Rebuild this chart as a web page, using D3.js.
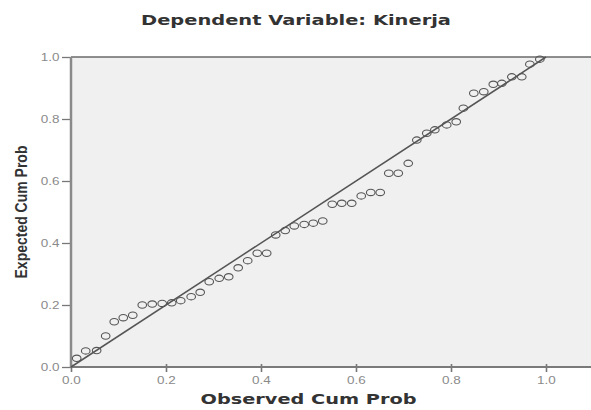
<!DOCTYPE html>
<html><head><meta charset="utf-8">
<script src="https://cdn.jsdelivr.net/npm/d3@7"></script>
<style>body{margin:0;background:#fff}svg{display:block}</style>
</head><body>
<script>
const titleText = "Dependent Variable: Kinerja";
const xLabel = "Observed Cum Prob";
const yLabel = "Expected Cum Prob";
const tickValues = [0.0, 0.2, 0.4, 0.6, 0.8, 1.0];
const observed = [0.012,0.031,0.054,0.073,0.091,0.110,0.130,0.150,0.171,0.192,0.212,0.231,0.253,0.272,0.291,0.312,0.332,
  0.352,0.372,0.392,0.412,0.431,0.451,0.470,0.491,0.510,0.530,0.550,0.570,0.591,0.611,0.631,0.651,0.669,
  0.689,0.710,0.728,0.749,0.766,0.791,0.811,0.826,0.848,0.869,0.889,0.907,0.928,0.949,0.966,0.987];
const expected = [0.028,0.052,0.053,0.100,0.146,0.159,0.167,0.200,0.203,0.205,0.207,0.214,0.227,0.241,0.275,0.286,0.291,
  0.320,0.343,0.367,0.367,0.426,0.440,0.455,0.460,0.464,0.471,0.525,0.528,0.528,0.552,0.563,0.563,0.625,
  0.625,0.657,0.732,0.754,0.765,0.781,0.791,0.835,0.883,0.888,0.912,0.915,0.936,0.936,0.977,0.993];

(function () {
const W = 591, H = 410;
const pLeft = 71, pTop = 57, pBottom = 367;
const x = d3.scaleLinear().domain([0, 1]).range([pLeft, pLeft + 475]);
const y = d3.scaleLinear().domain([0, 1]).range([pBottom, pTop]);

const svg = d3.select("body").append("svg").attr("width", W).attr("height", H);

svg.append("rect").attr("x", pLeft).attr("y", pTop).attr("width", W - pLeft).attr("height", pBottom - pTop).attr("fill", "#f0f0f0");
svg.append("line").attr("x1", pLeft).attr("x2", W).attr("y1", pTop).attr("y2", pTop).attr("stroke", "#6a6a6a").attr("stroke-width", 1.5);

const fmt = d3.format(".1f");
const xAxis = svg.append("g").attr("transform", `translate(0,${pBottom})`)
  .call(d3.axisBottom(x).tickValues(tickValues).tickFormat(fmt).tickSize(5).tickSizeOuter(0));
xAxis.select(".domain").remove();
xAxis.append("line").attr("x1", pLeft).attr("x2", W).attr("stroke", "#7a7a7a").attr("stroke-width", 2);
xAxis.selectAll(".tick line").attr("stroke", "#777").attr("stroke-width", 1.6).attr("y1", -3);
xAxis.selectAll(".tick text").attr("fill", "#8a8a8a").attr("font-size", 10)
  .attr("font-family", "Liberation Sans, Arial, sans-serif").attr("dy", "0.9em").attr("transform", "scale(1.35,1)");

const yAxis = svg.append("g").attr("transform", `translate(${pLeft},0)`)
  .call(d3.axisLeft(y).tickValues(tickValues).tickFormat(fmt).tickSize(9).tickSizeOuter(0));
yAxis.select(".domain").remove();
yAxis.append("line").attr("y1", pTop).attr("y2", pBottom).attr("stroke", "#8a8a8a").attr("stroke-width", 2.5);
yAxis.selectAll(".tick line").attr("stroke", "#777").attr("stroke-width", 1.3);
yAxis.selectAll(".tick text").attr("fill", "#8a8a8a").attr("font-size", 10)
  .attr("font-family", "Liberation Sans, Arial, sans-serif").attr("x", -8.5).attr("transform", "scale(1.35,1)");

svg.append("line").attr("x1", x(0)).attr("y1", y(0)).attr("x2", x(1)).attr("y2", y(1))
  .attr("stroke", "#555").attr("stroke-width", 1.5);

svg.append("g").selectAll("ellipse").data(observed.map((o, i) => [o, expected[i]])).join("ellipse")
  .attr("cx", d => x(d[0])).attr("cy", d => y(d[1])).attr("rx", 4.3).attr("ry", 3.2)
  .attr("fill", "none").attr("stroke", "#555").attr("stroke-width", 1.1);

svg.append("text").attr("x", 296).attr("y", 25).attr("text-anchor", "middle")
  .attr("font-family", "DejaVu Sans, sans-serif").attr("font-weight", "bold").attr("font-size", 14)
  .attr("textLength", 310).attr("lengthAdjust", "spacingAndGlyphs")
  .attr("fill", "#333").text(titleText);

svg.append("text").attr("x", x(0.5)).attr("y", 404).attr("text-anchor", "middle")
  .attr("font-family", "DejaVu Sans, sans-serif").attr("font-weight", "bold").attr("font-size", 14.5)
  .attr("textLength", 216).attr("lengthAdjust", "spacingAndGlyphs")
  .attr("fill", "#333").text(xLabel);

svg.append("text").attr("transform", `translate(27,${(pTop + pBottom) / 2}) rotate(-90) scale(1,1.2)`).attr("text-anchor", "middle")
  .attr("font-family", "Liberation Sans, Arial, sans-serif").attr("font-weight", "bold").attr("font-size", 14)
  .attr("fill", "#333").text(yLabel);
})();
</script>
</body></html>
